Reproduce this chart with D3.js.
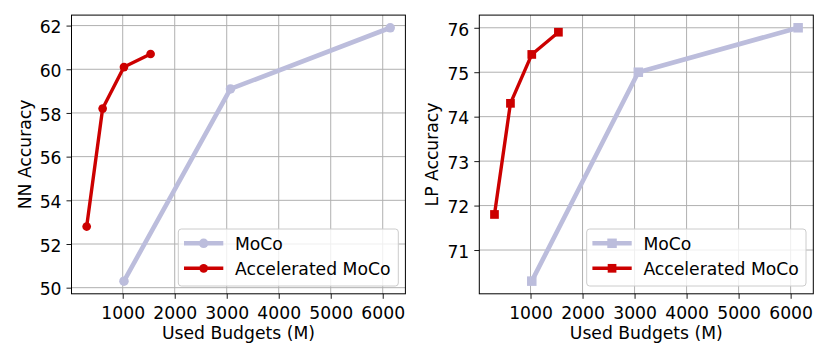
<!DOCTYPE html>
<html>
<head>
<meta charset="utf-8">
<script src="https://cdn.jsdelivr.net/npm/d3@7"></script>
<style>
  html, body { margin: 0; padding: 0; background: #fff; }
  svg text { font-family: "DejaVu Sans", sans-serif; fill: #000; }
</style>
</head>
<body>
<svg id="chart" width="830" height="363"></svg>
<script>
// ---- data ----
const budgetsMoCo = [1024, 3072, 6144];
const budgetsAccel = [307, 614, 1024, 1536];
const nnMoCo = [50.3, 59.1, 61.9];
const nnAccel = [52.8, 58.2, 60.1, 60.7];
const lpMoCo = [70.3, 75.0, 76.0];
const lpAccel = [71.8, 74.3, 75.4, 75.9];
const xTicks = [1000, 2000, 3000, 4000, 5000, 6000];
const nnTicks = [50, 52, 54, 56, 58, 60, 62];
const lpTicks = [71, 72, 73, 74, 75, 76];
const seriesNames = ["MoCo", "Accelerated MoCo"];
const xLabel = "Used Budgets (M)";
const yLabels = ["NN Accuracy", "LP Accuracy"];

// ---- styles ----
const colMoCo = "#bcbddc";
const colAccel = "#cc0000";
const fontSize = 17.2;

const svg = d3.select("#chart");

function padded(vals) {
  const lo = d3.min(vals), hi = d3.max(vals), m = (hi - lo) * 0.05;
  return [lo - m, hi + m];
}

function panel(cfg) {
  const { left, right, top, bottom, yMoCo, yAccel, yTicks, yLabel, marker, labelX, legendBox } = cfg;
  const x = d3.scaleLinear().domain(padded(budgetsMoCo.concat(budgetsAccel))).range([left, right]);
  const y = d3.scaleLinear().domain(padded(yMoCo.concat(yAccel))).range([bottom, top]);
  const g = svg.append("g");

  // grid
  g.append("g").selectAll("line").data(xTicks).join("line")
    .attr("x1", d => x(d)).attr("x2", d => x(d)).attr("y1", top).attr("y2", bottom)
    .attr("stroke", "#b0b0b0").attr("stroke-width", 1);
  g.append("g").selectAll("line").data(yTicks).join("line")
    .attr("y1", d => y(d)).attr("y2", d => y(d)).attr("x1", left).attr("x2", right)
    .attr("stroke", "#b0b0b0").attr("stroke-width", 1);

  // axes
  const xa = g.append("g").attr("transform", `translate(0,${bottom})`)
    .call(d3.axisBottom(x).tickValues(xTicks).tickSize(5).tickPadding(5).tickFormat(d3.format("d")));
  xa.select(".domain").remove();
  xa.selectAll("line").attr("stroke", "#000").attr("stroke-width", 0.9);
  xa.selectAll("text").attr("font-size", fontSize).attr("font-family", "DejaVu Sans")
    .attr("y", 25.2).attr("dy", 0).attr("fill", "#000");

  const ya = g.append("g").attr("transform", `translate(${left},0)`)
    .call(d3.axisLeft(y).tickValues(yTicks).tickSize(5).tickPadding(5).tickFormat(d3.format("d")));
  ya.select(".domain").remove();
  ya.selectAll("line").attr("stroke", "#000").attr("stroke-width", 0.9);
  ya.selectAll("text").attr("font-size", fontSize).attr("font-family", "DejaVu Sans")
    .attr("x", -10).attr("dy", "0.42em").attr("fill", "#000");

  // lines
  const line = d3.line().x(d => x(d[0])).y(d => y(d[1]));
  const dMoCo = budgetsMoCo.map((b, i) => [b, yMoCo[i]]);
  const dAccel = budgetsAccel.map((b, i) => [b, yAccel[i]]);
  const drawSeries = (data, color, w, ms) => {
    g.append("path").datum(data).attr("d", line).attr("fill", "none")
      .attr("stroke", color).attr("stroke-width", w).attr("stroke-linejoin", "round").attr("stroke-linecap", "butt");
    if (marker === "circle") {
      g.append("g").selectAll("circle").data(data).join("circle")
        .attr("cx", d => x(d[0])).attr("cy", d => y(d[1])).attr("r", ms / 2).attr("fill", color);
    } else {
      g.append("g").selectAll("rect").data(data).join("rect")
        .attr("x", d => x(d[0]) - ms / 2).attr("y", d => y(d[1]) - ms / 2)
        .attr("width", ms).attr("height", ms).attr("fill", color);
    }
  };
  drawSeries(dMoCo, colMoCo, 4.6, 9.5);
  drawSeries(dAccel, colAccel, 3.4, 8.7);

  // frame
  g.append("rect").attr("x", left).attr("y", top).attr("width", right - left).attr("height", bottom - top)
    .attr("fill", "none").attr("stroke", "#000").attr("stroke-width", 1);

  // labels
  g.append("text").attr("x", (left + right) / 2).attr("y", 338.5).attr("text-anchor", "middle")
    .attr("font-size", fontSize).text(xLabel);
  g.append("text").attr("transform", `translate(${labelX},${(top + bottom) / 2}) rotate(-90)`)
    .attr("text-anchor", "middle").attr("font-size", fontSize).text(yLabel);

  // legend
  const [lx0, ly0, lx1, ly1] = legendBox;
  const lg = g.append("g");
  lg.append("rect").attr("x", lx0).attr("y", ly0).attr("width", lx1 - lx0).attr("height", ly1 - ly0)
    .attr("rx", 3).attr("fill", "#fff").attr("fill-opacity", 0.8).attr("stroke", "#cccccc").attr("stroke-width", 1);
  const items = [[seriesNames[0], colMoCo, 4.6, 9.5], [seriesNames[1], colAccel, 3.4, 8.7]];
  items.forEach((it, i) => {
    const cy = ly0 + 14.3 + i * 25;
    const hx0 = lx0 + 5.7, hx1 = lx0 + 45;
    lg.append("line").attr("x1", hx0).attr("x2", hx1).attr("y1", cy).attr("y2", cy)
      .attr("stroke", it[1]).attr("stroke-width", it[2]);
    const mx = (hx0 + hx1) / 2;
    if (marker === "circle") {
      lg.append("circle").attr("cx", mx).attr("cy", cy).attr("r", it[3] / 2).attr("fill", it[1]);
    } else {
      lg.append("rect").attr("x", mx - it[3] / 2).attr("y", cy - it[3] / 2).attr("width", it[3]).attr("height", it[3]).attr("fill", it[1]);
    }
    lg.append("text").attr("x", lx0 + 56.7).attr("y", cy + 6.2).attr("font-size", fontSize).text(it[0]);
  });
}

panel({ left: 71.5, right: 405.4, top: 15.1, bottom: 293.8, yMoCo: nnMoCo, yAccel: nnAccel,
  yTicks: nnTicks, yLabel: yLabels[0], marker: "circle", labelX: 30.7, legendBox: [178.3, 229, 398.3, 286] });
panel({ left: 479.3, right: 813.3, top: 15.1, bottom: 293.8, yMoCo: lpMoCo, yAccel: lpAccel,
  yTicks: lpTicks, yLabel: yLabels[1], marker: "square", labelX: 438, legendBox: [586.7, 229, 806, 286] });
</script>
</body>
</html>
